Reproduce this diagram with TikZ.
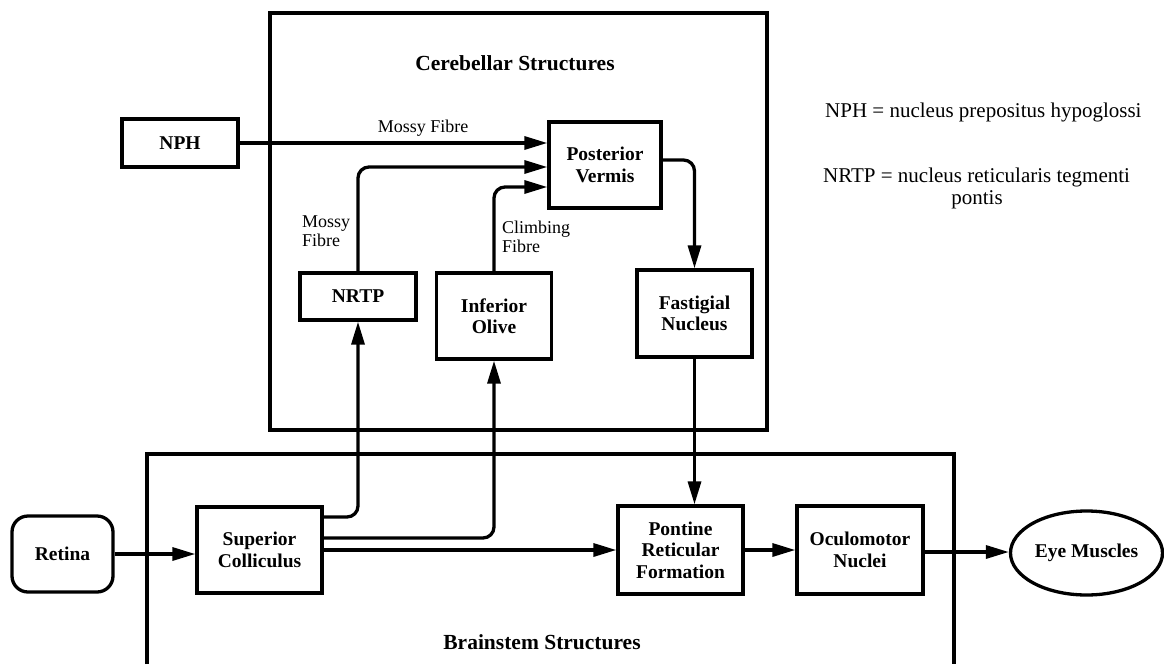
\documentclass[tikz,border=0pt]{standalone}
\usepackage{fontspec}
\setmainfont{Liberation Serif}
\usetikzlibrary{arrows.meta,shapes.geometric}
\tikzset{
  box/.style={draw, line width=3.3pt, rectangle, inner sep=0pt, align=center,
    font=\fontsize{19.5}{21.5}\selectfont\bfseries},
  conn/.style={line width=3.3pt, -{Triangle[length=23pt,width=13pt]}},
  frame/.style={line width=3.2pt},
  lbl/.style={inner sep=0pt, font=\fontsize{18}{19}\selectfont, align=left},
  title/.style={inner sep=0pt, font=\fontsize{21.5}{23}\selectfont\bfseries},
  legend/.style={inner sep=0pt, font=\fontsize{21}{23}\selectfont, anchor=west},
}
\begin{document}
\begin{tikzpicture}[x=1pt,y=-1pt]
\useasboundingbox (0,0) rectangle (1164,664);
% frames
\draw[frame] (270,13) rectangle (767,430);
\draw[frame] (147,664) -- (147,454) -- (954,454) -- (954,664);
\node[title] (cbt) at (515,63) {Cerebellar Structures};
\node[title] (bst) at (542,642) {Brainstem Structures};
% nodes
\node[box, minimum width=116pt, minimum height=48pt] (nph) at (180,143) {NPH};
\node[box, minimum width=112pt, minimum height=86pt] (pv) at (605,165) {Posterior\\Vermis};
\node[box, minimum width=116pt, minimum height=47pt] (nrtp) at (358,296.5) {NRTP};
\node[box, minimum width=115pt, minimum height=86pt] (io) at (494,316) {Inferior\\Olive};
\node[box, minimum width=115pt, minimum height=87pt] (fast) at (694.5,313.5) {Fastigial\\Nucleus};
\node[box, rounded corners=16pt, minimum width=101pt, minimum height=76pt] (ret) at (62.5,554) {Retina};
\node[box, minimum width=125pt, minimum height=86pt] (sc) at (259.5,550) {Superior\\Colliculus};
\node[box, minimum width=125pt, minimum height=88pt] (prf) at (680.5,550) {Pontine\\Reticular\\Formation};
\node[box, minimum width=126pt, minimum height=88pt] (om) at (860,550) {Oculomotor\\Nuclei};
\node[box, ellipse, minimum width=152pt, minimum height=84pt] (eye) at (1086.5,553) {Eye Muscles};
% labels
\node[lbl] (mf1) at (423,128) {Mossy Fibre};
\node[lbl, anchor=west] (mf2) at (302,231) {Mossy\\Fibre};
\node[lbl, anchor=west] (cf) at (502,237) {Climbing\\Fibre};
\node[legend] (lg1) at (825,112) {NPH = nucleus prepositus hypoglossi};
\node[legend] (lg2) at (823,177) {NRTP = nucleus reticularis tegmenti};
\node[inner sep=0pt, font=\fontsize{21}{23}\selectfont] (lg3) at (977,200) {pontis};
% connectors
\draw[conn] (nph.east) -- (nph.east -| pv.west);
\draw[conn, rounded corners=11pt] (nrtp.north) |- ([yshift=-2pt]pv.west);
\draw[conn, rounded corners=11pt] (io.north) |- ([yshift=-22pt]pv.west);
\draw[conn, rounded corners=11pt] ([yshift=5pt]pv.east) -| (fast.north);
\draw[conn] (fast.south) -- (fast.south |- prf.north);
\draw[conn, rounded corners=11pt] ([yshift=33pt]sc.east) -| (nrtp.south);
\draw[conn, rounded corners=11pt] ([yshift=12pt]sc.east) -| (io.south);
\draw[conn] (sc.east) -- (prf.west);
\draw[conn] (ret.east) -- (ret.east -| sc.west);
\draw[conn] (prf.east) -- (om.west);
\draw[conn] ([yshift=-2pt]om.east) -- ([yshift=-2pt]om.east -| eye.west);
\end{tikzpicture}
\end{document}
